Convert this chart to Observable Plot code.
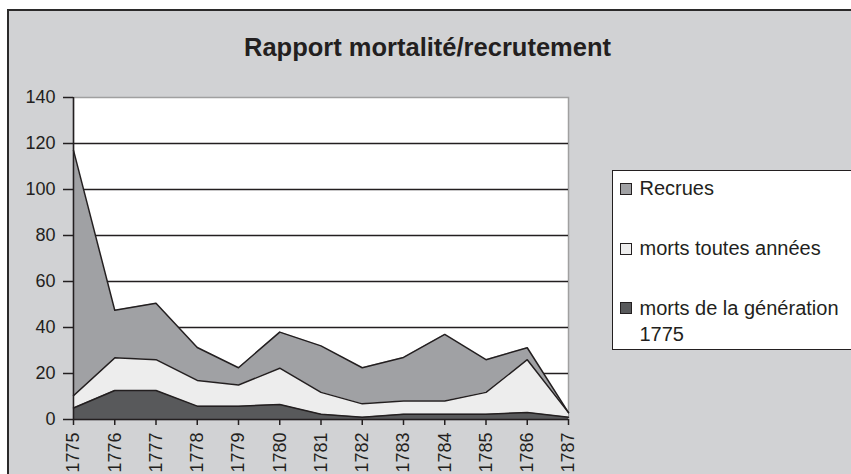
<!DOCTYPE html>
<html>
<head>
<meta charset="utf-8">
<script src="https://cdn.jsdelivr.net/npm/d3@7"></script>
<script src="https://cdn.jsdelivr.net/npm/@observablehq/plot@0.6"></script>
<style>
  html, body { margin: 0; padding: 0; background: #ffffff; width: 851px; height: 474px; overflow: hidden; }
  #wrap { position: relative; width: 851px; height: 474px; overflow: hidden; font-family: "Liberation Sans", Arial, sans-serif; }
  #bg { position: absolute; left: 7px; top: 9px; width: 900px; height: 520px; background: #d1d2d4; border: 2px solid #2b2a2a; }
  #chart { position: absolute; left: 0; top: 0; }
  #legend { position: absolute; left: 612px; top: 170px; width: 260px; height: 178px; background: #ffffff; border: 1.5px solid #231f20; }
  .sw { position: absolute; width: 10px; height: 10px; border: 1px solid #231f20; }
  .lt { position: absolute; font-size: 20px; line-height: 20px; color: #231f20; white-space: nowrap; }
</style>
</head>
<body>
<div id="wrap">
  <div id="bg"></div>
  <div id="chart"></div>
  <div id="legend"></div>
</div>
<script>
const title = "Rapport mortalité/recrutement";
const years = [1775, 1776, 1777, 1778, 1779, 1780, 1781, 1782, 1783, 1784, 1785, 1786, 1787];
const recrues = [117, 47.5, 50.5, 31.3, 22.5, 38, 32, 22.5, 27, 37, 26, 31.2, 3];
const mortsToutes = [10.4, 26.8, 26, 17, 15, 22.3, 11.8, 6.8, 8, 8, 11.8, 26, 3];
const mortsGeneration = [5, 12.6, 12.6, 5.8, 5.8, 6.5, 2.3, 1, 2.3, 2.3, 2.3, 3, 1];
const seriesNames = ["Recrues", "morts toutes années", "morts de la génération 1775"];
const seriesColors = ["#a0a1a4", "#ededed", "#58595b"];
const yTicks = [0, 20, 40, 60, 80, 100, 120, 140];

const data = years.map((year, i) => ({
  year,
  recrues: recrues[i],
  toutes: mortsToutes[i],
  generation: mortsGeneration[i]
}));

const ink = "#231f20";

const chart = Plot.plot({
  width: 851,
  height: 474,
  marginLeft: 73,
  marginTop: 97,
  marginRight: 283,
  marginBottom: 55,
  style: { background: "transparent", fontFamily: "'Liberation Sans', Arial, sans-serif", color: ink, overflow: "visible" },
  x: { type: "linear", domain: [1775, 1787] },
  y: { domain: [0, 140] },
  marks: [
    Plot.frame({ fill: "#ffffff", stroke: "#a0a0a0", strokeWidth: 1.5 }),
    Plot.gridY(yTicks.filter(d => d > 0 && d < 140), { stroke: ink, strokeOpacity: 1, strokeWidth: 1.5 }),
    Plot.areaY(data, { x: "year", y: "recrues", fill: seriesColors[0] }),
    Plot.areaY(data, { x: "year", y: "toutes", fill: seriesColors[1] }),
    Plot.areaY(data, { x: "year", y: "generation", fill: seriesColors[2] }),
    Plot.lineY(data, { x: "year", y: "recrues", stroke: ink, strokeWidth: 1.5 }),
    Plot.lineY(data, { x: "year", y: "toutes", stroke: ink, strokeWidth: 1.5 }),
    Plot.lineY(data, { x: "year", y: "generation", stroke: ink, strokeWidth: 1.5 }),
    Plot.ruleX([1775], { stroke: ink, strokeWidth: 1.5 }),
    Plot.ruleY([0], { stroke: ink, strokeWidth: 1.5 }),
    Plot.axisY({ ticks: yTicks, tickSize: 10, tickPadding: 8, fontSize: 18, stroke: ink, strokeWidth: 1.5, label: null }),
    Plot.axisX({ ticks: years, tickFormat: d => String(d), tickRotate: -90, tickSize: 6, tickPadding: 7, fontSize: 18, stroke: ink, strokeWidth: 1.5, label: null }),
    Plot.text([title], { frameAnchor: "top", dx: 106.5, dy: -42, lineAnchor: "bottom", fontSize: 25.5, fontWeight: "bold", fill: ink })
  ]
});
document.getElementById("chart").appendChild(chart);

// Legend (HTML, positioned relative to the legend box)
const legend = document.getElementById("legend");
const boxLeft = 612, boxTop = 170;
const rows = [
  { name: seriesNames[0], lines: [seriesNames[0]], baselines: [195.7] },
  { name: seriesNames[1], lines: [seriesNames[1]], baselines: [255.7] },
  { name: seriesNames[2], lines: ["morts de la génération", "1775"], baselines: [315, 341.7] }
];
rows.forEach((r, i) => {
  const sw = document.createElement("div");
  sw.className = "sw";
  sw.style.background = seriesColors[i];
  sw.style.left = (620 - boxLeft - 1.5) + "px";
  sw.style.top = (r.baselines[0] - 12.7 - boxTop - 1.5) + "px";
  legend.appendChild(sw);
  r.lines.forEach((t, j) => {
    const s = document.createElement("div");
    s.className = "lt";
    s.textContent = t;
    s.style.left = (640 - boxLeft - 1.5) + "px";
    s.style.top = (r.baselines[j] - 17 - boxTop - 1.5) + "px";
    legend.appendChild(s);
  });
});
</script>
</body>
</html>
